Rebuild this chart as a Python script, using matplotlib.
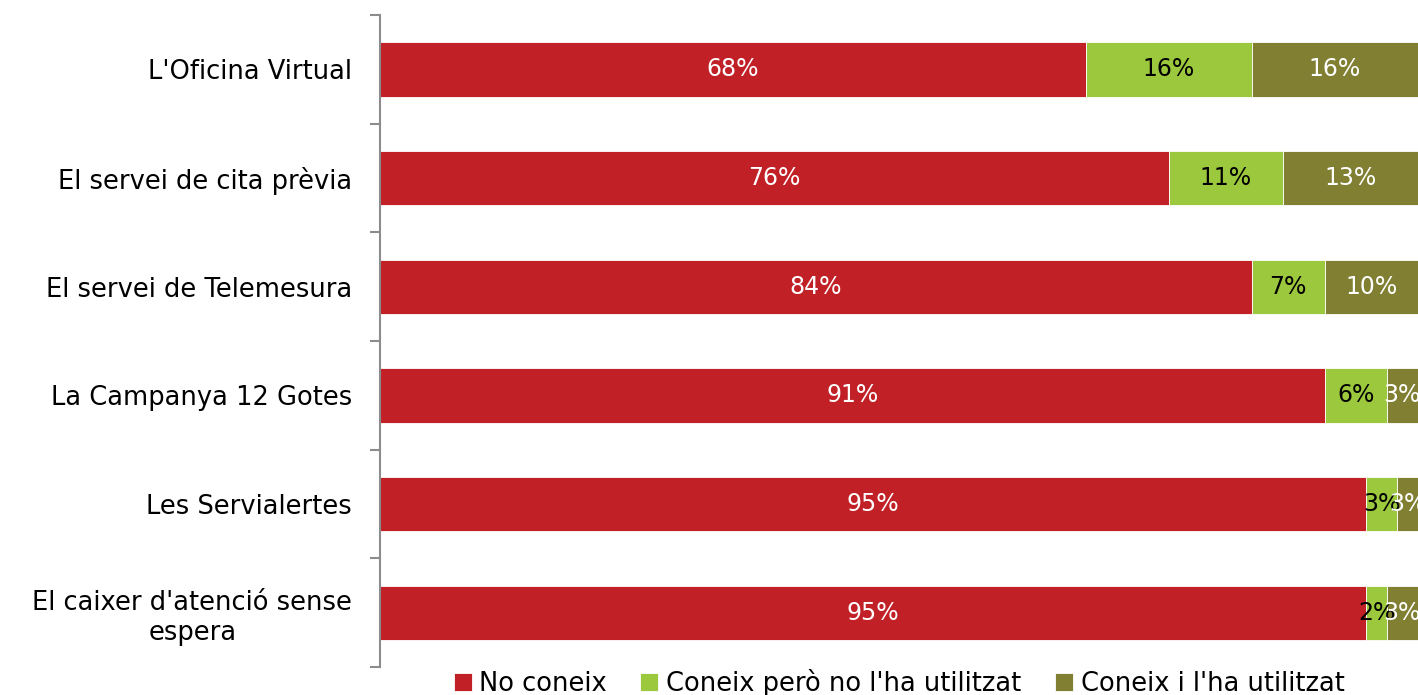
import matplotlib
matplotlib.use("Agg")
import matplotlib.pyplot as plt
import numpy as np

categories = [
    "L'Oficina Virtual",
    "El servei de cita prèvia",
    "El servei de Telemesura",
    "La Campanya 12 Gotes",
    "Les Servialertes",
    "El caixer d'atenció sense\nespera",
]
series_names = ["No coneix", "Coneix però no l'ha utilitzat", "Coneix i l'ha utilitzat"]
no_coneix = [68, 76, 84, 91, 95, 95]
coneix_no_utilitzat = [16, 11, 7, 6, 3, 2]
coneix_utilitzat = [16, 13, 10, 3, 3, 3]

colors = ["#C12027", "#9BC83C", "#807F32"]
label_colors = ["white", "black", "white"]

plt.rcParams["font.family"] = ["DejaVu Sans"]

fig = plt.figure(figsize=(14.18, 6.95), dpi=100)
ax = fig.add_axes([380 / 1418, 1 - 667 / 695, 1 - 380 / 1418, 652 / 695])

y = np.arange(len(categories))
left = np.zeros(len(categories))
for name, vals, col, lcol in zip(series_names,
                                 [no_coneix, coneix_no_utilitzat, coneix_utilitzat],
                                 colors, label_colors):
    vals = np.array(vals, dtype=float)
    bars = ax.barh(y, vals, left=left, height=0.5, color=col, label=name,
                   edgecolor="white", linewidth=0.6)
    ax.bar_label(bars, labels=[f"{int(v)}%" for v in vals], label_type="center",
                 color=lcol, fontsize=17)
    left += vals

ax.set_xlim(0, 100)
ax.set_ylim(len(categories) - 0.5, -0.5)
ax.set_yticks(y)
ax.set_yticklabels(categories, fontsize=18.5)
ax.tick_params(axis="y", which="major", length=0, pad=20)
ax.set_yticks(np.arange(-0.5, len(categories), 1.0), minor=True)
ax.tick_params(axis="y", which="minor", length=7, width=1.5, color="#8C8C8C")
ax.set_xticks([])
for s in ["top", "right", "bottom"]:
    ax.spines[s].set_visible(False)
ax.spines["left"].set_color("#8C8C8C")
ax.spines["left"].set_linewidth(1.5)

for lbl in ax.get_yticklabels():
    lbl.set_horizontalalignment("right")
    lbl.set_multialignment("center")

ax.legend(loc="center", bbox_to_anchor=(0.5, -16 / 652), ncol=3, frameon=False,
          fontsize=18.5, handlelength=0.7, handleheight=0.7, handletextpad=0.3,
          columnspacing=1.3, borderaxespad=0)

fig.savefig("out.png", dpi=100)
